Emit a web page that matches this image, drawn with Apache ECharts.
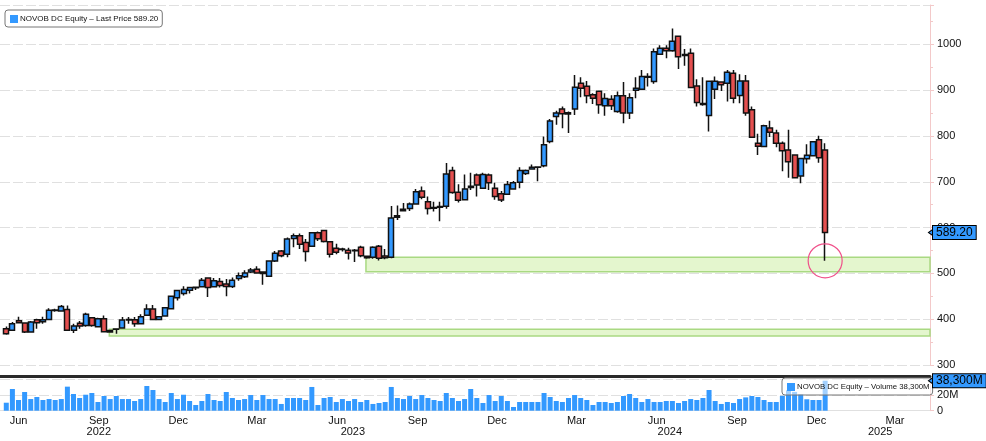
<!DOCTYPE html>
<html><head><meta charset="utf-8">
<script src="https://cdn.jsdelivr.net/npm/echarts@6/dist/echarts.min.js"></script>
<style>html,body{margin:0;padding:0;background:#fff}#c{width:986px;height:441px}</style>
</head><body><div id="c"></div>
<script>
const weekDates = ['2022-05-18','2022-05-25','2022-06-01','2022-06-08','2022-06-15','2022-06-22','2022-06-29','2022-07-06','2022-07-13','2022-07-20','2022-07-27','2022-08-03','2022-08-10','2022-08-17','2022-08-24','2022-08-31','2022-09-07','2022-09-14','2022-09-21','2022-09-28','2022-10-05','2022-10-12','2022-10-19','2022-10-26','2022-11-02','2022-11-09','2022-11-16','2022-11-23','2022-11-30','2022-12-07','2022-12-14','2022-12-21','2022-12-28',
'2023-01-04','2023-01-11','2023-01-18','2023-01-25','2023-02-01','2023-02-08','2023-02-15','2023-02-22','2023-03-01','2023-03-08','2023-03-15','2023-03-22','2023-03-29','2023-04-05','2023-04-12','2023-04-19','2023-04-26','2023-05-03','2023-05-10','2023-05-17','2023-05-24','2023-05-31','2023-06-07','2023-06-14','2023-06-21','2023-06-28','2023-07-05','2023-07-12','2023-07-19','2023-07-26','2023-08-02','2023-08-09','2023-08-16','2023-08-23','2023-08-30','2023-09-06','2023-09-13','2023-09-20','2023-09-27','2023-10-04','2023-10-11','2023-10-18','2023-10-25','2023-11-01','2023-11-08','2023-11-15','2023-11-22','2023-11-29','2023-12-06','2023-12-13','2023-12-20','2023-12-27',
'2024-01-03','2024-01-10','2024-01-17','2024-01-24','2024-01-31','2024-02-07','2024-02-14','2024-02-21','2024-02-28','2024-03-06','2024-03-13','2024-03-20','2024-03-27','2024-04-03','2024-04-10','2024-04-17','2024-04-24','2024-05-01','2024-05-08','2024-05-15','2024-05-22','2024-05-29','2024-06-05','2024-06-12','2024-06-19','2024-06-26','2024-07-03','2024-07-10','2024-07-17','2024-07-24','2024-07-31','2024-08-07','2024-08-14','2024-08-21','2024-08-28','2024-09-04','2024-09-11','2024-09-18','2024-09-25','2024-10-02','2024-10-09','2024-10-16','2024-10-23','2024-10-30','2024-11-06','2024-11-13','2024-11-20','2024-11-27','2024-12-04','2024-12-11'];

const opens = [379,376,396.5,391.6,372,399,394.5,399.6,419,418,
421,376,391,386.5,403,383.5,401,375.5,378,381,
398.5,399,390,408.4,422,399.6,407,423,447,456,
463,468.5,470.7,489.7,470.7,482.4,476.6,471.4,489,492.7,
503,509,503,494,527,549,542,576,582,567.7,
559,589,593.5,569.2,554.8,552,550.5,549.5,557,537.6,
535.5,559,538,535,622.5,637,641.6,651.6,680,656.6,
642,644.5,646.6,724.7,677.4,661,687.5,714.7,686,714.7,
686,674,673,684.4,699,718,728,732.5,734.8,788,
842.8,858.7,848,858.7,915.2,908.7,890,897.8,866,880.4,
853.6,887.7,850,900,902,930,918.8,978.3,991.3,986,
1018,976,980.4,909.4,869,845,902,918,915.2,937,
888.4,920.3,857.2,784.4,777,817.4,806.5,784.4,769.6,758.5,
712.6,750.4,757,791.9,769.6];

const closes = [368,390,392,372,394,392,399,419.4,420,427.5,
376,385,385,410.6,386.5,401,372.5,372,378.6,398,
399.5,390,405.5,422,399.6,405.5,425,450,462.6,465,
469,469.5,485,469,484,473.6,471.4,485,495,500.7,
507.5,501,499.6,527,544,538.4,575,582,563.4,547.7,
589,575.6,569.9,541.9,546.2,553,544.8,550.3,538.4,534.1,
557,533.3,534,621,626,640,651.6,678,666,641.6,
644,646,716.8,676.7,659.5,684,690,693,716,698,
668,660,694,697.8,724.4,724.4,732,731.5,781,832.6,
850,848.6,851,906.5,904.3,887.7,882.6,868,881.9,866,
887.7,850,883.4,904.3,929.7,928.5,984,991.3,986,1007,
973,978,905.8,873,871,919.6,919.6,912,939,882.6,
920.3,850,797,777.5,822.5,808,784.4,768,743.7,708.9,
751.1,757.8,787.4,752.6,589.2];

const lows = [366,375,391,370,371,379,390,398,416,416.5,
375,370,379,383.5,383.5,382,371,371,368,379,
390,383.5,389,407,398,398,406,422,441,452,
456,464,469,448.7,469,469,450,468,484,490,
501,500,475,492,525,535.5,535,557,553,526,
558,571,567.7,534.8,542,547.7,530.5,524.7,535,532,
532,528.3,531,533,616.5,636,636,650,662,628.7,
635,614,641,673.8,655,660,682,668,684,682,
661,656,672,683,686,715,727,701,732,784,
824.6,816.7,806.5,845.6,884.8,871.7,869.6,848.6,844,857,
851,828,837,882.6,901,908,913.8,976.8,969.6,984,
946.4,953.6,904,864.5,866,810,881,898.5,875.4,871.7,
871.7,844.2,796,758.5,775.6,797.8,775.6,722.9,708.9,708,
697,740,756,741.5,527.5];

const highs = [384,394,405.5,393,396,401,405.5,424,423,431,
430,390,396,414,405,403,408,376,379,405,
405,405,411,432.6,431,406,426,451,463,472,
470,471,489.7,490,489.7,489.7,487.5,491,502,507,
512,515.4,504,528,549,551,578.5,587,587,575,
590,591.4,595,571,564.9,556,556,553,560.6,539,
559,562,553,647,648,653.8,655,684,689.6,668,
656.6,656.6,741,732.6,694.6,716,720,718,720,718,
698,680,702,702,732,727,738,733,799,837,
855,864.5,853.6,933,928,920,893.5,899,893.5,889,
897,918,893.5,928,944,937,991,998,998,1034.8,
1019,990,991,924,928,920,929.7,919,944,944,
934.8,933.3,864.5,805,824.6,833.3,813.8,788,813.8,759,
752,782,788,800.7,784.4];

const volumes = [10.2,27.7,13.7,23.9,14.9,17.5,13.7,14.9,13.7,14.9,
30.7,21.3,16.2,20.4,22.6,11.1,18.8,14.9,18.8,14.9,
14.9,12.4,14.9,31.5,26.4,14.9,11.1,22.6,14.9,20.4,
12.4,7.3,12.4,21.3,13.7,12.4,23.9,16.2,13.7,14.9,
20,13.7,20,14.9,14.9,8.6,16.2,16.2,16.2,13.7,
30.3,7.3,16.2,17.5,11.1,14.9,12.4,14.9,11.1,13.7,
8.6,9.8,11.1,30.3,16.2,14.9,18.8,14.9,20,16.2,
13.7,12.4,22.6,16.2,12.4,14.9,27.7,16.2,9.8,20,
12.4,18.8,12.4,4.7,11.1,11.1,11.1,11.1,22.6,17.5,
12.4,11.1,16.2,20,16.2,13.7,7.3,11.1,11.1,9.8,
11.1,18.8,21.3,16.2,11.1,14.9,11.1,11.1,12.4,12.4,
9.8,12.4,14.9,13.7,16.2,26.4,12.4,8.6,11.1,9.8,
14.9,17,18.8,17.5,13.7,11.1,11.1,19,26,24,
21,14.6,13.7,13.7,38.3];

const monthTickDates = ['2022-06-01','2022-09-01','2022-12-01','2023-03-01','2023-06-01','2023-09-01','2023-12-01','2024-03-01','2024-06-01','2024-09-01','2024-12-01','2025-03-01'];
const monthNames = ['Jan','Feb','Mar','Apr','May','Jun','Jul','Aug','Sep','Oct','Nov','Dec'];
const yearTickDates = ['2022-09-01','2023-06-19','2024-06-16','2025-02-12'];
const supportZones = [
  {from:'2022-09-13', low:363.5, high:378},
  {from:'2023-07-04', low:503.5, high:535}
];
const lastPrice = 589.20;
const lastVolumeText = '38,300M';
const tickerName = 'NOVOB DC Equity';

const FONT = 'Liberation Sans, Arial, sans-serif';
const DAY = 86400000;
const t = s => { const p = s.split('-').map(Number); return Date.UTC(p[0], p[1]-1, p[2]); };
const anchor = t('2022-06-01');
const xMin = anchor - 21.2 * DAY;
const xMax = anchor + 1044.1 * DAY;

const candleData = weekDates.map((d,i) => [t(d), opens[i], closes[i], lows[i], highs[i]]);
const volData = weekDates.map((d,i) => [t(d), volumes[i]]);
const lastIdx = weekDates.length - 1;

const BLUE = '#3399ff', RED = '#e55050';
const pink = '#f3c9c9';
const gridDash = {color:'#e0e0e0', type:[10,3], width:1};
const tagLabel = txt => ({show:true, position:'end', distance:3, formatter:txt,
  backgroundColor:BLUE, borderColor:'#000', borderWidth:1, padding:[1,3,0,3],
  color:'#000', fontSize:12, fontFamily:FONT});
const tagArrow = y => ({coord:[xMax, y], symbol:'triangle', symbolRotate:90, symbolSize:[10,7], symbolOffset:[2,0],
  itemStyle:{color:BLUE, borderColor:'#000', borderWidth:1}});

const chart = echarts.init(document.getElementById('c'), null, {renderer:'canvas'});
chart.setOption({
  animation:false,
  backgroundColor:'#fff',
  textStyle:{fontFamily:FONT},
  grid:[
    {left:0, right:56, top:5, height:360},
    {left:0, right:56, top:376, height:34.7}
  ],
  legend:[
    {data:[{name:'Last Price', icon:'rect', itemStyle:{color:BLUE, borderWidth:0}}],
     left:5, top:10, selectedMode:false, itemWidth:8, itemHeight:8, itemGap:4,
     backgroundColor:'rgba(255,255,255,0.9)', borderColor:'#777', borderWidth:1, borderRadius:3,
     padding:[5,4,4,5],
     formatter:()=>tickerName+' – Last Price '+lastPrice.toFixed(2),
     textStyle:{fontFamily:FONT, fontSize:8, color:'#111', padding:[0,0,0,-3]}},
    {data:[{name:'Volume', icon:'rect', itemStyle:{color:BLUE, borderWidth:0}}],
     left:782, top:378, selectedMode:false, itemWidth:8, itemHeight:8,
     backgroundColor:'rgba(255,255,255,0.55)', borderColor:'#777', borderWidth:1, borderRadius:3,
     padding:[5,3,4,5],
     formatter:()=>tickerName+' – Volume '+lastVolumeText,
     textStyle:{fontFamily:FONT, fontSize:7.8, color:'#111', padding:[0,0,0,-3]}}
  ],
  xAxis:[
    {gridIndex:0, type:'value', min:xMin, max:xMax, show:false, splitLine:{show:false}},
    {gridIndex:1, type:'value', min:xMin, max:xMax,
     axisLine:{show:true, lineStyle:{color:'#e0e0e0'}}, axisTick:{show:false}, splitLine:{show:false},
     axisLabel:{customValues:monthTickDates.map(t), formatter:v=>monthNames[new Date(v).getUTCMonth()],
       color:'#111', fontSize:11, margin:5, hideOverlap:false, showMinLabel:true, showMaxLabel:true}},
    {gridIndex:1, type:'value', min:xMin, max:xMax, position:'bottom', offset:11,
     axisLine:{show:false}, axisTick:{show:false}, splitLine:{show:false},
     axisLabel:{customValues:yearTickDates.map(t), formatter:v=>String(new Date(v).getUTCFullYear()),
       color:'#111', fontSize:11, margin:5, hideOverlap:false, showMinLabel:true, showMaxLabel:true}},
    {gridIndex:1, type:'value', min:xMin, max:xMax, position:'top',
     axisLine:{show:true, lineStyle:{color:'#2a2a2a', width:3}}, axisTick:{show:false},
     axisLabel:{show:false}, splitLine:{show:false}}
  ],
  yAxis:[
    {gridIndex:0, type:'value', position:'right', min:300, max:1086, interval:100,
     axisLine:{show:true, lineStyle:{color:pink}},
     axisTick:{show:true, length:4, lineStyle:{color:pink}},
     minorTick:{show:true, splitNumber:2, length:3, lineStyle:{color:pink}},
     axisLabel:{showMaxLabel:false, color:'#111', fontSize:11, margin:7, fontFamily:FONT, formatter:v=>String(v)},
     splitLine:{show:true, lineStyle:gridDash}},
    {gridIndex:1, type:'value', position:'right', min:0, max:44.3, interval:20,
     axisLine:{show:true, lineStyle:{color:pink}},
     axisTick:{show:true, length:4, lineStyle:{color:pink}},
     axisLabel:{showMaxLabel:false, color:'#111', fontSize:11, margin:7, fontFamily:FONT,
       formatter:v=> v===0 ? '0' : (v<40 ? v+'M' : '')},
     splitLine:{show:true, lineStyle:gridDash}}
  ],
  series:[
    {type:'candlestick', name:'Last Price', xAxisIndex:0, yAxisIndex:0, data:candleData, barWidth:5.5,
     itemStyle:{color:BLUE, color0:RED, borderColor:'#111', borderColor0:'#111', borderWidth:1.5},
     markArea:{silent:true,
       itemStyle:{color:'rgba(205,238,165,0.55)', borderColor:'#a9d982', borderWidth:1.5},
       data:supportZones.map(z=>[{coord:[t(z.from), z.high]},{coord:[xMax, z.low]}])},
     markPoint:{silent:true, label:{show:false},
       data:[
         {coord:[t(weekDates[lastIdx]), lows[lastIdx]], symbol:'circle', symbolSize:34,
          itemStyle:{color:'rgba(0,0,0,0)', borderColor:'#f0508a', borderWidth:1.2}},
         tagArrow(lastPrice)
       ]},
     markLine:{silent:true, symbol:['none','none'],
       lineStyle:{color:'rgba(0,0,0,0)', width:0},
       data:[{yAxis:lastPrice}],
       label:tagLabel(lastPrice.toFixed(2))}
    },
    {type:'bar', name:'Volume', xAxisIndex:1, yAxisIndex:1, data:volData, barWidth:5,
     itemStyle:{color:BLUE},
     markPoint:{silent:true, label:{show:false}, data:[tagArrow(volumes[lastIdx])]},
     markLine:{silent:true, symbol:['none','none'],
       lineStyle:{color:'rgba(0,0,0,0)', width:0},
       data:[{yAxis:volumes[lastIdx]}],
       label:tagLabel(lastVolumeText)}
    }
  ]
});
</script></body></html>
